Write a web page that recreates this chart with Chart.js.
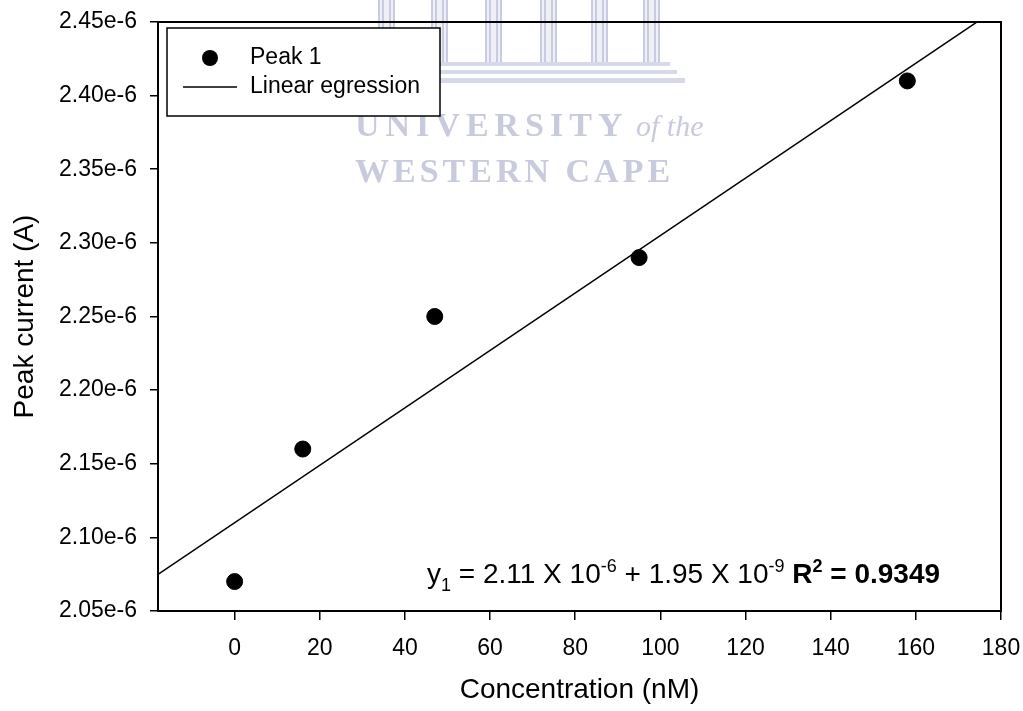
<!DOCTYPE html>
<html>
<head>
<meta charset="utf-8">
<script src="https://cdn.jsdelivr.net/npm/chart.js@4.4.1/dist/chart.umd.min.js"></script>
<style>
  html, body { margin:0; padding:0; background:#fff; }
  #wrap { width:1023px; height:711px; }
</style>
</head>
<body>
<div id="wrap"><canvas id="chart"></canvas></div>
<script>
// ── DATA ────────────────────────────────────────────────
const CONC      = [0, 16, 47, 95, 158];                               // nM
const PEAK      = [2.07e-6, 2.16e-6, 2.25e-6, 2.29e-6, 2.41e-6];      // A
const X_TICKS   = [0, 20, 40, 60, 80, 100, 120, 140, 160, 180];
const Y_TICKS   = [2.05e-6, 2.10e-6, 2.15e-6, 2.20e-6, 2.25e-6, 2.30e-6, 2.35e-6, 2.40e-6, 2.45e-6];
const Y_LABELS  = ['2.05e-6','2.10e-6','2.15e-6','2.20e-6','2.25e-6','2.30e-6','2.35e-6','2.40e-6','2.45e-6'];
const FIT_X     = [-18, 180];
const FIT_B     = 2.11e-6;   // intercept
const FIT_M     = 1.95e-9;   // slope
const R2        = '0.9349';

const FONT = 'Arial, "Liberation Sans", Helvetica, sans-serif';
const SERIF = '"Liberation Serif", "Times New Roman", serif';

// ── PLUGINS ─────────────────────────────────────────────
const watermark = {
  id: 'watermark',
  beforeDraw(chart) {
    const ctx = chart.ctx;
    ctx.save();
    // columns
    ctx.strokeStyle = '#c9cce0';
    ctx.fillStyle = '#eef0f6';
    ctx.lineWidth = 2;
    [378, 431, 485, 540, 591, 643].forEach(x => {
      ctx.fillRect(x, 0, 17, 62);
      ctx.beginPath();
      ctx.moveTo(x + 1, 0); ctx.lineTo(x + 1, 62);
      ctx.moveTo(x + 5, 0); ctx.lineTo(x + 5, 62);
      ctx.moveTo(x + 12, 0); ctx.lineTo(x + 12, 62);
      ctx.moveTo(x + 16, 0); ctx.lineTo(x + 16, 62);
      ctx.stroke();
    });
    // steps
    ctx.fillStyle = '#d6d9e8';
    ctx.fillRect(363, 62, 307, 4);
    ctx.fillRect(360, 70, 317, 4);
    ctx.fillRect(355, 78, 330, 5);
    // lettering
    ctx.fillStyle = '#c8cbdd';
    ctx.textBaseline = 'alphabetic';
    ctx.textAlign = 'left';
    ctx.font = `bold 34px ${SERIF}`;
    ctx.letterSpacing = '6px';
    ctx.fillText('UNIVERSITY', 355, 136);
    ctx.letterSpacing = '0px';
    ctx.font = `italic 30px ${SERIF}`;
    ctx.fillText('of the', 636, 136);
    ctx.font = `bold 34px ${SERIF}`;
    ctx.letterSpacing = '4px';
    ctx.fillText('WESTERN CAPE', 355, 182);
    ctx.restore();
  }
};

const frame = {
  id: 'frame',
  afterDraw(chart) {
    const { ctx, chartArea: a } = chart;
    ctx.save();
    ctx.strokeStyle = '#000';
    ctx.lineWidth = 2;
    ctx.strokeRect(a.left, a.top, a.right - a.left, a.bottom - a.top);
    ctx.restore();
  }
};

const legendBox = {
  id: 'legendBox',
  afterDraw(chart) {
    const ctx = chart.ctx;
    const [pts, fit] = chart.data.datasets;
    ctx.save();
    ctx.fillStyle = '#fff';
    ctx.fillRect(167, 28, 273, 88);
    ctx.strokeStyle = '#000';
    ctx.lineWidth = 1.5;
    ctx.strokeRect(167, 28, 273, 88);

    ctx.fillStyle = pts.backgroundColor;
    ctx.beginPath();
    ctx.arc(210, 58, pts.pointRadius, 0, Math.PI * 2);
    ctx.fill();

    ctx.strokeStyle = fit.borderColor;
    ctx.lineWidth = fit.borderWidth;
    ctx.beginPath();
    ctx.moveTo(183, 87); ctx.lineTo(237, 87);
    ctx.stroke();

    ctx.fillStyle = '#000';
    ctx.font = `23px ${FONT}`;
    ctx.textBaseline = 'middle';
    ctx.fillText(pts.label, 250, 58);
    ctx.fillText(fit.label, 250, 87);
    ctx.restore();
  }
};

// equation with sub/superscripts
const equation = {
  id: 'equation',
  afterDraw(chart) {
    const ctx = chart.ctx;
    const big = 28, small = 18;
    const parts = [
      { t: 'y', s: big },
      { t: '1', s: small, dy: 8 },
      { t: ' = 2.11 X 10', s: big },
      { t: '-6', s: small, dy: -11 },
      { t: ' + 1.95 X 10', s: big },
      { t: '-9', s: small, dy: -11 },
      { t: ' ', s: big },
      { t: 'R', s: big, b: true },
      { t: '2', s: small, dy: -11, b: true },
      { t: ' = ' + R2, s: big, b: true },
    ];
    ctx.save();
    ctx.fillStyle = '#000';
    ctx.textBaseline = 'alphabetic';
    let x = 427;
    const y = 583;
    parts.forEach(p => {
      ctx.font = `${p.b ? 'bold ' : ''}${p.s}px ${FONT}`;
      ctx.fillText(p.t, x, y + (p.dy || 0));
      x += ctx.measureText(p.t).width;
    });
    ctx.restore();
  }
};

// ── CHART ───────────────────────────────────────────────
new Chart(document.getElementById('chart'), {
  type: 'scatter',
  data: {
    datasets: [{
      label: 'Peak 1',
      data: CONC.map((c, i) => ({ x: c, y: PEAK[i] })),
      backgroundColor: '#000',
      borderColor: '#000',
      pointRadius: 8,
      pointHoverRadius: 8,
      showLine: false,
      order: 0,
    }, {
      label: 'Linear egression',
      data: FIT_X.map(x => ({ x, y: FIT_B + FIT_M * x })),
      borderColor: '#000',
      backgroundColor: '#000',
      borderWidth: 1.5,
      pointRadius: 0,
      showLine: true,
      order: 1,
    }]
  },
  options: {
    responsive: true,
    maintainAspectRatio: false,
    animation: false,
    events: [],
    layout: { padding: { top: 22, right: 22, left: 0, bottom: 0 } },
    plugins: { legend: { display: false }, tooltip: { enabled: false } },
    scales: {
      x: {
        type: 'linear',
        min: -18, max: 180,
        afterBuildTicks: s => { s.ticks = X_TICKS.map(v => ({ value: v })); },
        afterFit: s => { s.height = 100; s.paddingLeft = 0; s.paddingRight = 0; },
        border: { color: '#000', width: 2 },
        grid: { drawOnChartArea: false, color: '#000', lineWidth: 1.5, tickLength: 9 },
        ticks: { color: '#000', padding: 15, maxRotation: 0, font: { family: FONT, size: 23 } },
        title: { display: true, text: 'Concentration (nM)', color: '#000',
                 font: { family: FONT, size: 28 }, padding: { top: 0, bottom: 4 } },
      },
      y: {
        type: 'linear',
        min: 2.05e-6, max: 2.45e-6,
        afterBuildTicks: s => { s.ticks = Y_TICKS.map(v => ({ value: v })); },
        afterFit: s => { s.width = 158; s.paddingTop = 0; s.paddingBottom = 0; },
        border: { color: '#000', width: 2 },
        grid: { drawOnChartArea: false, color: '#000', lineWidth: 1.5, tickLength: 8 },
        ticks: { color: '#000', padding: 13, font: { family: FONT, size: 23 },
                 callback: (v, i) => Y_LABELS[i] },
        title: { display: true, text: 'Peak current (A)', color: '#000',
                 font: { family: FONT, size: 28 }, padding: { top: 8, bottom: 0 } },
      }
    }
  },
  plugins: [watermark, frame, legendBox, equation]
});
</script>
</body>
</html>
